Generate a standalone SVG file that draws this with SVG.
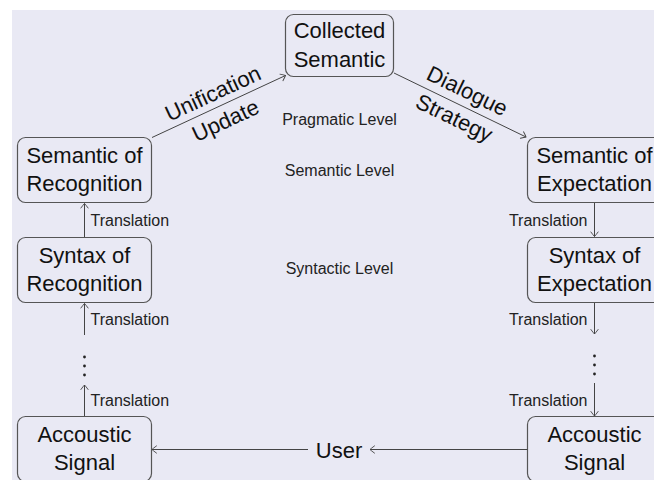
<svg xmlns="http://www.w3.org/2000/svg" width="654" height="480" viewBox="0 0 654 480">
  <defs>
    <marker id="to" markerUnits="userSpaceOnUse" markerWidth="12" markerHeight="12" viewBox="-6 -6 12 12" refX="0" refY="0" orient="auto">
      <path d="M -4.5 -3.6 Q -1.2 -1.2 0 0 Q -1.2 1.2 -4.5 3.6" fill="none" stroke="#444" stroke-width="0.9" stroke-linecap="round"/>
    </marker>
    <style>
      .box { fill: #e9e9f4; stroke: #555; stroke-width: 1.2; }
      .big { font-family: "Liberation Sans", Arial, sans-serif; font-size: 22px; fill: #111; text-anchor: middle; }
      .small { font-family: "Liberation Sans", Arial, sans-serif; font-size: 16px; fill: #222; }
      .mid { text-anchor: middle; }
      .end { text-anchor: end; }
      .edge { fill: none; stroke: #444; stroke-width: 1; marker-end: url(#to); }
      .dot { fill: #222; }
    </style>
  </defs>

  <!-- page background -->
  <rect x="0" y="0" width="654" height="480" fill="#ffffff"/>
  <rect x="12" y="10" width="642" height="470" fill="#e9e9f4"/>

  <!-- level captions -->
  <g id="levels">
    <text class="small mid" x="339.5" y="125">Pragmatic Level</text>
    <text class="small mid" x="339.5" y="176">Semantic Level</text>
    <text class="small mid" x="339.5" y="274">Syntactic Level</text>
  </g>

  <!-- nodes -->
  <g id="collected-semantic">
    <rect class="box" x="285.5" y="14.5" width="108" height="62" rx="8"/>
    <text class="big" x="339.5" y="38">Collected</text>
    <text class="big" x="339.5" y="67">Semantic</text>
  </g>

  <g id="semantic-recognition">
    <rect class="box" x="17.5" y="137.5" width="134" height="65" rx="8"/>
    <text class="big" x="84.5" y="162.5">Semantic of</text>
    <text class="big" x="84.5" y="191">Recognition</text>
  </g>

  <g id="syntax-recognition">
    <rect class="box" x="17.5" y="237.5" width="134" height="65" rx="8"/>
    <text class="big" x="84.5" y="262.5">Syntax of</text>
    <text class="big" x="84.5" y="291">Recognition</text>
  </g>

  <g id="acoustic-left">
    <rect class="box" x="17.5" y="416.5" width="134" height="65" rx="8"/>
    <text class="big" x="84.5" y="441.5">Accoustic</text>
    <text class="big" x="84.5" y="470">Signal</text>
  </g>

  <g id="semantic-expectation">
    <rect class="box" x="527.5" y="137.5" width="134" height="65" rx="8"/>
    <text class="big" x="594.5" y="162.5">Semantic of</text>
    <text class="big" x="594.5" y="191">Expectation</text>
  </g>

  <g id="syntax-expectation">
    <rect class="box" x="527.5" y="237.5" width="134" height="65" rx="8"/>
    <text class="big" x="594.5" y="262.5">Syntax of</text>
    <text class="big" x="594.5" y="291">Expectation</text>
  </g>

  <g id="acoustic-right">
    <rect class="box" x="527.5" y="416.5" width="134" height="65" rx="8"/>
    <text class="big" x="594.5" y="441.5">Accoustic</text>
    <text class="big" x="594.5" y="470">Signal</text>
  </g>

  <g id="user">
    <text class="big" x="339" y="457.5">User</text>
  </g>

  <!-- connectors -->
  <g id="connectors">
    <!-- recognition chain, upwards -->
    <line class="edge" x1="84.5" y1="237" x2="84.5" y2="203.5"/>
    <line class="edge" x1="84.5" y1="335" x2="84.5" y2="303.5"/>
    <line class="edge" x1="84.5" y1="416" x2="84.5" y2="385"/>
    <circle class="dot" cx="84.5" cy="357" r="1.4"/>
    <circle class="dot" cx="84.5" cy="366" r="1.4"/>
    <circle class="dot" cx="84.5" cy="375" r="1.4"/>
    <text class="small" x="90.5" y="225.5">Translation</text>
    <text class="small" x="90.5" y="325">Translation</text>
    <text class="small" x="90.5" y="406">Translation</text>

    <!-- expectation chain, downwards -->
    <line class="edge" x1="594.5" y1="203" x2="594.5" y2="236.5"/>
    <line class="edge" x1="594.5" y1="303" x2="594.5" y2="334"/>
    <line class="edge" x1="594.5" y1="383" x2="594.5" y2="416"/>
    <circle class="dot" cx="594.5" cy="356" r="1.4"/>
    <circle class="dot" cx="594.5" cy="365" r="1.4"/>
    <circle class="dot" cx="594.5" cy="374" r="1.4"/>
    <text class="small end" x="587.5" y="225.5">Translation</text>
    <text class="small end" x="587.5" y="325">Translation</text>
    <text class="small end" x="587.5" y="406">Translation</text>

    <!-- pragmatic level -->
    <line class="edge" x1="152" y1="137.5" x2="285.5" y2="75.5"/>
    <line class="edge" x1="394" y1="73" x2="526" y2="137"/>
    <g transform="translate(219 106.5) rotate(-24.9)">
      <text class="big" x="0" y="-7">Unification</text>
      <text class="big" x="0" y="23">Update</text>
    </g>
    <g transform="translate(461 104) rotate(25.9)">
      <text class="big" x="0" y="-7">Dialogue</text>
      <text class="big" x="0" y="23">Strategy</text>
    </g>

    <!-- user loop -->
    <line class="edge" x1="527.5" y1="449.5" x2="370" y2="449.5"/>
    <line class="edge" x1="308" y1="449.5" x2="152" y2="449.5"/>
  </g>
</svg>
